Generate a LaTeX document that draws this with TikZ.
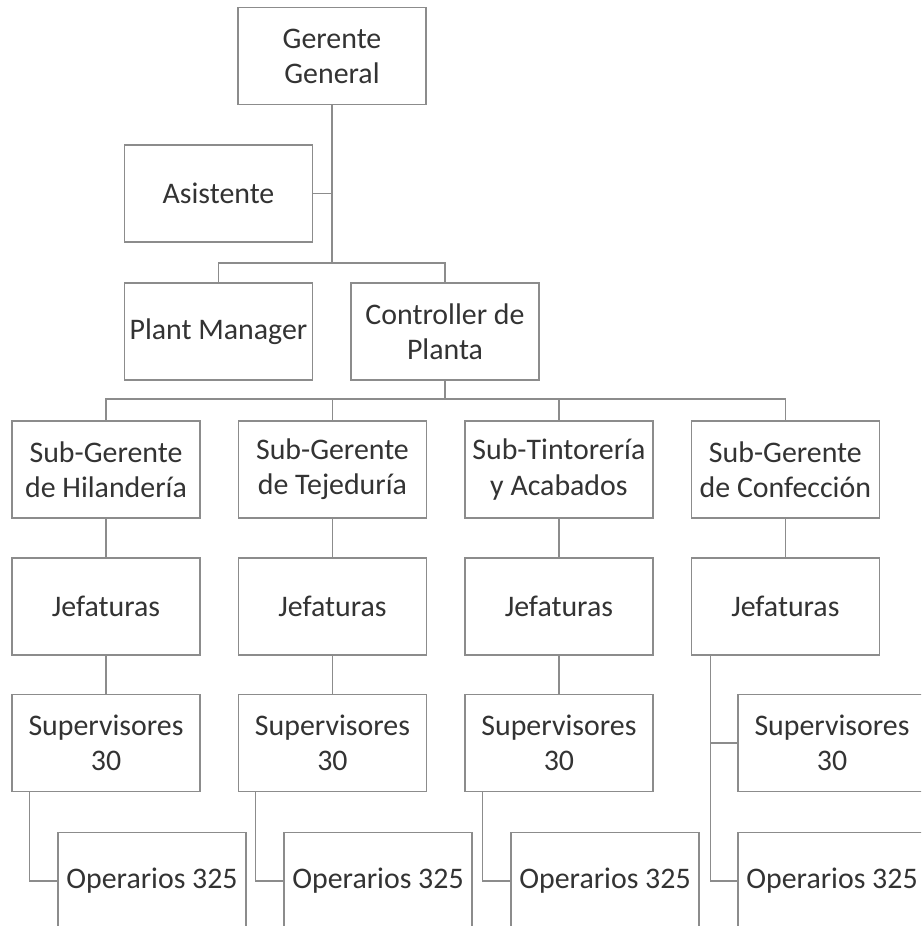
\documentclass[tikz,border=0pt]{standalone}
\usepackage{fontspec}
\setmainfont{Carlito}
\usetikzlibrary{positioning}
\tikzset{box/.style={draw=black!45,line width=0.8pt,fill=white,minimum width=3.76cm,minimum height=1.94cm,inner sep=0pt,align=center,text=black!80,font=\fontsize{17}{20}\selectfont},
link/.style={draw=black!45,line width=0.8pt}}

\begin{document}
\begin{tikzpicture}[x=0.02cm,y=-0.02cm]
\useasboundingbox (0,0) rectangle (921,926);
\clip (0,0) rectangle (921,926);

\node (gg) [box] at (332,56) {Gerente\\General};
\node (asis) [box] at (218.5,193.5) {Asistente};
\node (pm) [box] at (218.5,331.5) {Plant Manager};
\node (ctrl) [box] at (445,331.5) {Controller de\\Planta};

\node (sub1) [box] at (106,469.5) {Sub-Gerente\\de Hilandería};
\node (sub2) [box, right of=sub1, node distance=4.53cm] {Sub-Gerente\\de Tejeduría};
\node (sub3) [box, right of=sub2, node distance=4.53cm] {Sub-Tintorería\\y Acabados};
\node (sub4) [box, right of=sub3, node distance=4.53cm] {Sub-Gerente\\de Confección};

\foreach \i in {1,...,4}
  \node (jef\i) [box, below of=sub\i, node distance=2.74cm] {Jefaturas};
\foreach \i in {1,2,3}
  \node (sup\i) [box, below of=jef\i, node distance=2.73cm] {Supervisores\\30};
\node (sup4) [box] at (832,743) {Supervisores\\30};

\node (op1) [box] at (152,881) {Operarios 325};
\node (op2) [box] at (378,881) {Operarios 325};
\node (op3) [box] at (605,881) {Operarios 325};
\node (op4) [box] at (832,881) {Operarios 325};

\coordinate (b1) at (332,263);
\coordinate (b2) at (445,399);

\draw[link] (gg) -- (b1);
\draw[link] (asis) -- (asis -| b1);
\draw[link] (b1) -| (pm);
\draw[link] (b1) -| (ctrl);
\draw[link] (ctrl) -- (b2);
\foreach \i in {1,...,4}
  \draw[link] (b2) -| (sub\i);
\foreach \i in {1,...,4}
  \draw[link] (sub\i) -- (jef\i);
\foreach \i in {1,2,3} {
  \draw[link] (jef\i) -- (sup\i);
  \draw[link] ([xshift=0.36cm]sup\i.south west) |- (op\i);
}
\draw[link] ([xshift=0.4cm]jef4.south west) |- (op4);
\draw[link] ([xshift=0.4cm]jef4.south west) |- (sup4);
\end{tikzpicture}
\end{document}
